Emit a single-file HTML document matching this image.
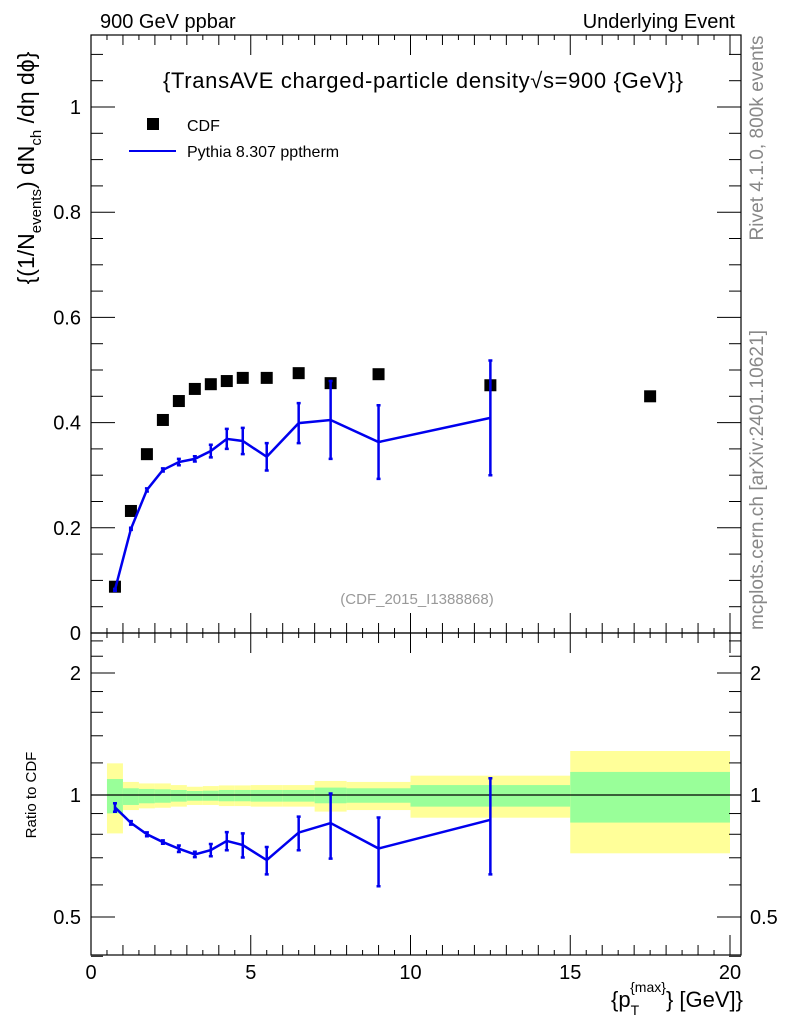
<!DOCTYPE html>
<html><head><meta charset="utf-8"><style>
html,body{margin:0;padding:0;background:#fff}
svg text{font-family:"Liberation Sans",sans-serif}
</style></head><body>
<svg id="c" width="786" height="1024" xmlns="http://www.w3.org/2000/svg">
<text x="100" y="28" font-size="20">900 GeV ppbar</text>
<text x="735" y="28" font-size="20" text-anchor="end">Underlying Event</text>
<text x="423" y="88" font-size="22" text-anchor="middle" textLength="520">{TransAVE charged-particle density√s=900 {GeV}}</text>
<rect x="147" y="118" width="12" height="12" fill="#000"/>
<text x="187" y="131" font-size="16">CDF</text>
<line x1="129" y1="151" x2="176" y2="151" stroke="#0000ee" stroke-width="2"/>
<text x="187" y="157" font-size="16">Pythia 8.307 pptherm</text>
<text x="417" y="604" font-size="15" fill="#999" text-anchor="middle">(CDF_2015_I1388868)</text>
<text transform="translate(763,138) rotate(-90)" font-size="19" fill="#888" text-anchor="middle" textLength="205">Rivet 4.1.0,  800k events</text>
<text transform="translate(763,480) rotate(-90)" font-size="19" fill="#888" text-anchor="middle" textLength="300">mcplots.cern.ch [arXiv:2401.10621]</text>
<text transform="translate(34,168) rotate(-90)" font-size="23" text-anchor="middle">{(1/N<tspan font-size="15" dy="7">events</tspan><tspan dy="-7">) dN</tspan><tspan font-size="15" dy="7">ch</tspan><tspan dy="-7"> /dη  dϕ}</tspan></text>
<text transform="translate(36,795) rotate(-90)" font-size="15" text-anchor="middle">Ratio to CDF</text>
<text x="743" y="1007" font-size="22" text-anchor="end">{p<tspan font-size="14" dy="8">T</tspan><tspan font-size="14" dx="-9" dy="-23">{max}</tspan><tspan dy="15">} [GeV]}</tspan></text>
<g id="g"></g>
</svg>
<script>
const binLo=[0.5,1,1.5,2,2.5,3,3.5,4,4.5,5,6,7,8,10,15];
const binHi=[1,1.5,2,2.5,3,3.5,4,4.5,5,6,7,8,10,15,20];
const cdfX=[0.75,1.25,1.75,2.25,2.75,3.25,3.75,4.25,4.75,5.5,6.5,7.5,9,12.5,17.5];
const cdfY=[0.088,0.232,0.340,0.405,0.441,0.464,0.473,0.479,0.485,0.485,0.494,0.475,0.492,0.471,0.450];
const pyX=[0.75,1.25,1.75,2.25,2.75,3.25,3.75,4.25,4.75,5.5,6.5,7.5,9,12.5];
const pyY=[0.082,0.198,0.272,0.310,0.325,0.331,0.346,0.369,0.365,0.335,0.399,0.405,0.363,0.409];
const pyErr=[0.002,0.002,0.003,0.003,0.006,0.005,0.012,0.019,0.025,0.026,0.038,0.074,0.070,0.109];
const yelUp=[1.197,1.077,1.068,1.068,1.058,1.048,1.052,1.056,1.056,1.058,1.058,1.083,1.077,1.116,1.284];
const yelDn=[0.804,0.918,0.927,0.930,0.936,0.945,0.945,0.939,0.939,0.936,0.936,0.910,0.918,0.879,0.718];
const grnUp=[1.095,1.039,1.035,1.033,1.029,1.023,1.025,1.029,1.029,1.029,1.029,1.043,1.039,1.058,1.140];
const grnDn=[0.901,0.945,0.954,0.957,0.963,0.968,0.968,0.965,0.965,0.963,0.963,0.954,0.957,0.936,0.855];
const xTicks=[0,5,10,15,20];
const yTicks=[0,0.2,0.4,0.6,0.8,1];
const rTicks=[0.5,1,2];

const NS="http://www.w3.org/2000/svg";
const g=document.getElementById('g');
const L=91,R=741,T=35,M=633,B=955;
const X=v=>91+v*31.95;
const Y=v=>633-v*526;
const RY=v=>795-Math.log2(v)*122;
function mk(tag,attrs){const e=document.createElementNS(NS,tag);for(const k in attrs)e.setAttribute(k,attrs[k]);g.appendChild(e);return e;}

for(let i=0;i<binLo.length;i++){
  let e=mk('rect',{x:X(binLo[i]),y:RY(yelUp[i]),width:X(binHi[i])-X(binLo[i]),height:RY(yelDn[i])-RY(yelUp[i]),fill:'#ffff99'});
  
  
  e=mk('rect',{x:X(binLo[i]),y:RY(grnUp[i]),width:X(binHi[i])-X(binLo[i]),height:RY(grnDn[i])-RY(grnUp[i]),fill:'#99ff99'});
  
  
}
let ln=mk('line',{x1:L,y1:RY(1),x2:R,y2:RY(1),stroke:'#000','stroke-width':1.2});



for(const [y1,y2,n] of [[T,M,'main-plot-frame'],[M,B,'ratio-plot-frame']]){
  const f=mk('rect',{x:L,y:y1,width:R-L,height:y2-y1,fill:'none',stroke:'#000','stroke-width':1.2});
  
  
}
for(let v=0;v<=20.3;v+=0.5){
  const maj=Math.abs(v%5)<1e-6, mid=Math.abs(v%1)<1e-6;
  const len=maj?20:(mid?10:5);
  for(const [yb,dir] of [[M,-1],[T,1],[B,-1],[M,1]]){
    mk('line',{x1:X(v),y1:yb,x2:X(v),y2:yb+dir*len,stroke:'#000'});
  }
}
xTicks.forEach(v=>{const t=mk('text',{x:X(v),y:979,'font-size':20,'text-anchor':'middle'});t.textContent=v;

});
for(let v=0;v<=1.14;v+=0.05){
  const maj=Math.abs((v/0.2)-Math.round(v/0.2))<1e-6;const len=maj?24:12;
  mk('line',{x1:L,y1:Y(v),x2:L+len,y2:Y(v),stroke:'#000'});
  mk('line',{x1:R,y1:Y(v),x2:R-len,y2:Y(v),stroke:'#000'});
}
yTicks.forEach(v=>{const t=mk('text',{x:81,y:Y(v)+7,'font-size':20,'text-anchor':'end'});t.textContent=v;

});
for(let v=0.4;v<=2.5;v+=0.1){
  const maj=[0.5,1,2].some(m=>Math.abs(m-v)<1e-6);const len=maj?24:12;
  if(v>1.05&&Math.abs(v*10-Math.round(v*10))<1e-6&&!maj&&(Math.round(v*10)%2))continue;
  mk('line',{x1:L,y1:RY(v),x2:L+len,y2:RY(v),stroke:'#000'});
  mk('line',{x1:R,y1:RY(v),x2:R-len,y2:RY(v),stroke:'#000'});
}
rTicks.forEach(v=>{
  let t=mk('text',{x:81,y:RY(v)+7,'font-size':20,'text-anchor':'end'});t.textContent=v;
  
  
  t=mk('text',{x:750,y:RY(v)+7,'font-size':20});t.textContent=v;
  
  
});

cdfX.forEach((x,i)=>{const r=mk('rect',{x:X(x)-6,y:Y(cdfY[i])-6,width:12,height:12,fill:'#000'});

});
let p=mk('polyline',{points:pyX.map((x,i)=>X(x)+','+Y(pyY[i])).join(' '),fill:'none',stroke:'#0000ee','stroke-width':2.5});


pyX.forEach((x,i)=>{
  const y1=Y(pyY[i]+pyErr[i]),y2=Y(pyY[i]-pyErr[i]);
  const e=mk('path',{d:`M${X(x)},${y1}V${y2}M${X(x)-2},${y1}h4M${X(x)-2},${y2}h4`,stroke:'#0000ee','stroke-width':2.5,fill:'none'});
  
  
});
const ratio=pyY.map((v,i)=>v/cdfY[i]);
p=mk('polyline',{points:pyX.map((x,i)=>X(x)+','+RY(ratio[i])).join(' '),fill:'none',stroke:'#0000ee','stroke-width':2.5});


pyX.forEach((x,i)=>{
  const y1=RY((pyY[i]+pyErr[i])/cdfY[i]),y2=RY((pyY[i]-pyErr[i])/cdfY[i]);
  const e=mk('path',{d:`M${X(x)},${y1}V${y2}M${X(x)-2},${y1}h4M${X(x)-2},${y2}h4`,stroke:'#0000ee','stroke-width':2.5,fill:'none'});
  
  
});
</script>
</body></html>
